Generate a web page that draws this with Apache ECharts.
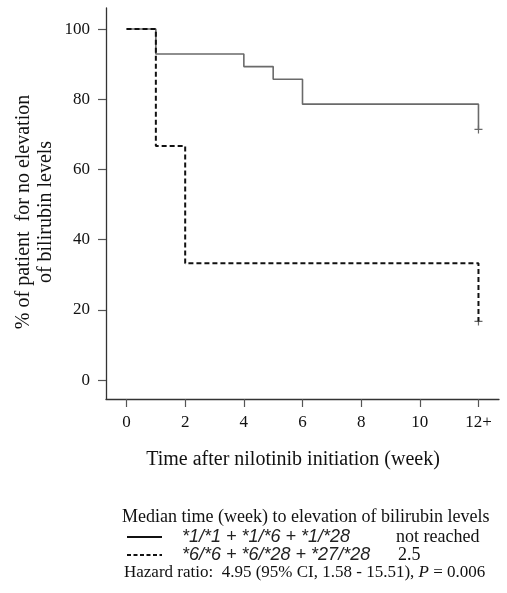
<!DOCTYPE html>
<html>
<head>
<meta charset="utf-8">
<script src="https://cdn.jsdelivr.net/npm/echarts@6/dist/echarts.min.js"></script>
<style>
html,body{margin:0;padding:0;background:#fff;}
#c{width:507px;height:593px;}
</style>
</head>
<body>
<div id="c"></div>
<script>
// Kaplan-Meier step data (week, % without bilirubin elevation)
const groupAWeeks = [0, 1, 4, 5, 6, 12];
const groupAValues = [100, 92.9, 89.3, 85.7, 78.6, 71.4];
const groupBWeeks = [0, 1, 2, 12];
const groupBValues = [100, 66.7, 33.3, 16.7];
const censorWeeks = [12, 12];
const censorValues = [71.4, 16.7];
const xTicks = [0, 2, 4, 6, 8, 10, 12];
const xTickLabels = ['0', '2', '4', '6', '8', '10', '12+'];
const yTicks = [0, 20, 40, 60, 80, 100];

const groupAName = '*1/*1 + *1/*6 + *1/*28';
const groupBName = '*6/*6 + *6/*28 + *27/*28';
const groupAMedian = 'not reached';
const groupBMedian = '2.5';

const serif = '"Liberation Serif", "Times New Roman", serif';
const sans = '"Liberation Sans", Arial, sans-serif';

const pairs = (xs, ys) => xs.map((x, i) => [x, ys[i]]);

const chart = echarts.init(document.getElementById('c'), null, {renderer: 'canvas'});
const plusPath = 'path://M0,5 L10,5 M5,0 L5,10';

chart.setOption({
  backgroundColor: '#fff',
  animation: false,
  grid: {left: 106, top: 8, right: 8, bottom: 194, containLabel: false, outerBoundsMode: 'none'},
  xAxis: {
    type: 'value', min: -0.7, max: 12.7,
    name: 'Time after nilotinib initiation (week)',
    nameLocation: 'middle', nameGap: 51,
    nameTextStyle: {fontFamily: serif, fontSize: 20, color: '#111', padding: [0, 19, 0, 0]},
    axisLine: {show: true, onZero: false, lineStyle: {color: '#333', width: 1.3}},
    axisTick: {show: true, length: 8, customValues: xTicks, lineStyle: {color: '#555', width: 1.2}},
    axisLabel: {
      margin: 15, fontFamily: serif, fontSize: 17, color: '#111',
      customValues: xTicks,
      formatter: v => xTickLabels[xTicks.indexOf(v)]
    },
    splitLine: {show: false}
  },
  yAxis: {
    type: 'value', min: -5.4, max: 106,
    axisLine: {show: true, onZero: false, lineStyle: {color: '#333', width: 1.3}},
    axisTick: {show: true, length: 8, customValues: yTicks, lineStyle: {color: '#555', width: 1.2}},
    axisLabel: {margin: 16, fontFamily: serif, fontSize: 17, color: '#111', customValues: yTicks},
    splitLine: {show: false}
  },
  series: [
    {
      name: groupAName, type: 'line', step: 'end', showSymbol: false, symbol: 'none',
      data: pairs(groupAWeeks, groupAValues),
      lineStyle: {color: '#6a6a6a', width: 1.6, type: 'solid'}
    },
    {
      name: groupBName, type: 'line', step: 'end', showSymbol: false, symbol: 'none',
      data: pairs(groupBWeeks, groupBValues),
      lineStyle: {color: '#111', width: 2, type: [5, 3]}
    },
    {
      name: 'censored', type: 'scatter', symbol: plusPath, symbolSize: 8,
      data: pairs(censorWeeks, censorValues),
      itemStyle: {color: 'none', borderColor: '#444', borderWidth: 1.2}
    }
  ],
  graphic: [
    {type: 'text', x: 35, y: 212, rotation: Math.PI / 2, style: {
      text: '% of patient  for no elevation\nof bilirubin levels',
      font: '20px ' + serif, fill: '#111', align: 'center', verticalAlign: 'middle', lineHeight: 22
    }},
    {type: 'text', x: 122, y: 517, style: {text: 'Median time (week) to elevation of bilirubin levels', font: '18px ' + serif, fill: '#111', verticalAlign: 'middle'}},
    {type: 'line', shape: {x1: 127, y1: 537, x2: 162, y2: 537}, style: {stroke: '#111', lineWidth: 2}},
    {type: 'text', x: 182, y: 537, style: {text: groupAName, font: 'italic 18px ' + sans, fill: '#222', verticalAlign: 'middle'}},
    {type: 'text', x: 396, y: 537, style: {text: groupAMedian, font: '18px ' + serif, fill: '#111', verticalAlign: 'middle'}},
    {type: 'line', shape: {x1: 127, y1: 555, x2: 162, y2: 555}, style: {stroke: '#111', lineWidth: 2, lineDash: [4, 2.5]}},
    {type: 'text', x: 182, y: 555, style: {text: groupBName, font: 'italic 18px ' + sans, fill: '#222', verticalAlign: 'middle'}},
    {type: 'text', x: 398, y: 555, style: {text: groupBMedian, font: '18px ' + serif, fill: '#111', verticalAlign: 'middle'}},
    {type: 'text', x: 124, y: 573, style: {
      text: 'Hazard ratio:  4.95 (95% CI, 1.58 - 15.51), {i|P} = 0.006',
      font: '17px ' + serif, fill: '#111', verticalAlign: 'middle',
      rich: {i: {fontFamily: serif, fontStyle: 'italic', fontSize: 17, fill: '#111'}}
    }}
  ]
});
</script>
</body>
</html>
